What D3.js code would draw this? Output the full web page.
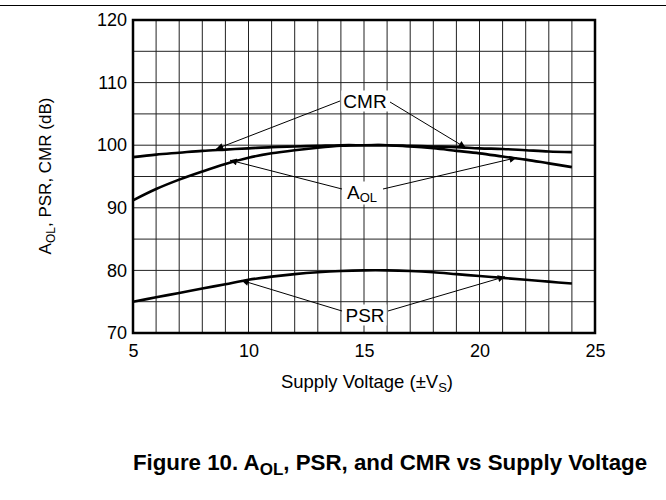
<!DOCTYPE html>
<html><head><meta charset="utf-8">
<script src="https://cdn.jsdelivr.net/npm/d3@7"></script>
<style>body{margin:0;background:#fff}svg{font-family:Arial,"Liberation Sans",sans-serif}</style>
</head><body><svg id="c" width="666" height="500"></svg>
<script>
const supplyV = [5,6,7,8,9,10,11,12,13,14,15,16,17,18,19,20,21,22,23,24];
const cmr = [98.1,98.5,98.8,99.1,99.3,99.5,99.7,99.8,99.9,100,100,100,99.9,99.8,99.7,99.5,99.4,99.2,99.0,98.9];
const aol = [91.2,93.0,94.5,95.8,97.0,98.0,98.7,99.2,99.6,99.9,100,100,99.8,99.5,99.1,98.7,98.2,97.7,97.1,96.5];
const psr = [75.0,75.7,76.4,77.1,77.8,78.5,79.0,79.4,79.7,79.9,80,80,79.9,79.7,79.4,79.1,78.8,78.5,78.2,77.9];
const xTicks = [5,10,15,20,25];
const yTicks = [70,80,90,100,110,120];
const annotations = [
  {label:"CMR", sub:"", lx:365, ly:101, arrows:[{from:[340,101],x:8.6,y:99.4},{from:[390,102],x:19.4,y:99.6}]},
  {label:"A", sub:"OL", lx:362, ly:192, arrows:[{from:[342,189],x:9.2,y:97.6},{from:[383,189],x:21.6,y:98.0}]},
  {label:"PSR", sub:"", lx:365, ly:315, arrows:[{from:[342,311],x:9.7,y:78.4},{from:[388,311],x:21.1,y:79.0}]}
];

const svg = d3.select("#c");
const x = d3.scaleLinear().domain([5,25]).range([133,595]);
const y = d3.scaleLinear().domain([70,120]).range([333,20]);

svg.append("line").attr("x1",0).attr("x2",666).attr("y1",5.5).attr("y2",5.5).attr("stroke","#000").attr("stroke-width",1);

const defs = svg.append("defs");
defs.append("marker").attr("id","ah").attr("viewBox","0 0 10 10").attr("refX",10).attr("refY",5)
  .attr("markerWidth",10).attr("markerHeight",7).attr("markerUnits","userSpaceOnUse").attr("orient","auto")
  .append("path").attr("d","M0,0 L10,5 L0,10 Z").attr("fill","#000");

const g = svg.append("g");
g.selectAll(".vg").data(d3.range(6,25)).enter().append("line")
  .attr("x1",d=>x(d)).attr("x2",d=>x(d)).attr("y1",y(120)).attr("y2",y(70))
  .attr("stroke","#222").attr("stroke-width",1);
g.selectAll(".hg").data(d3.range(75,120,5)).enter().append("line")
  .attr("y1",d=>y(d)).attr("y2",d=>y(d)).attr("x1",x(5)).attr("x2",x(25))
  .attr("stroke","#222").attr("stroke-width",1);

const xAxis = d3.axisBottom(x).tickValues(xTicks).tickSize(0).tickPadding(11);
const xa = svg.append("g").attr("transform",`translate(0,${y(70)})`).call(xAxis);
xa.select(".domain").remove();
xa.selectAll("text").style("font-size","18px").style("font-family","Arial, 'Liberation Sans', sans-serif").attr("fill","#000");
const yAxis = d3.axisLeft(y).tickValues(yTicks).tickSize(0).tickPadding(6);
const ya = svg.append("g").attr("transform",`translate(${x(5)},0)`).call(yAxis);
ya.select(".domain").remove();
ya.selectAll("text").style("font-size","18px").style("font-family","Arial, 'Liberation Sans', sans-serif").attr("fill","#000");

const line = d3.line().x((d,i)=>x(supplyV[i])).y(d=>y(d)).curve(d3.curveCatmullRom);
[cmr,aol,psr].forEach(s=>{
  svg.append("path").attr("d",line(s)).attr("fill","none").attr("stroke","#000").attr("stroke-width",2.6);
});

svg.append("rect").attr("x",x(5)).attr("y",y(120)).attr("width",x(25)-x(5)).attr("height",y(70)-y(120))
  .attr("fill","none").attr("stroke","#000").attr("stroke-width",2.5);

annotations.forEach(a=>{
  a.arrows.forEach(ar=>{
    svg.append("line").attr("x1",ar.from[0]).attr("y1",ar.from[1]).attr("x2",x(ar.x)).attr("y2",y(ar.y))
      .attr("stroke","#000").attr("stroke-width",1).attr("marker-end","url(#ah)");
  });
  const t = svg.append("text").attr("x",a.lx).attr("y",a.ly).attr("text-anchor","middle")
    .attr("dominant-baseline","central").style("font-size","19px").attr("fill","#000");
  t.append("tspan").text(a.label);
  if(a.sub) t.append("tspan").style("font-size","13px").attr("dy",5).text(a.sub);
  const bb = t.node().getBBox();
  svg.insert("rect", () => t.node()).attr("x",bb.x-2).attr("y",bb.y).attr("width",bb.width+4).attr("height",bb.height).attr("fill","#fff");
});

const xt = svg.append("text").attr("x",367).attr("y",388).attr("text-anchor","middle").style("font-size","18.5px").attr("fill","#000");
xt.append("tspan").text("Supply Voltage (±V");
xt.append("tspan").style("font-size","13px").attr("dy",4).text("S");
xt.append("tspan").attr("dy",-4).text(")");

const yt = svg.append("text").attr("transform","translate(51,176) rotate(-90)").attr("text-anchor","middle").style("font-size","17px").attr("fill","#000");
yt.append("tspan").text("A");
yt.append("tspan").style("font-size","12px").attr("dy",4).text("OL");
yt.append("tspan").attr("dy",-4).text(", PSR, CMR (dB)");

const tt = svg.append("text").attr("x",390).attr("y",470).attr("text-anchor","middle").style("font-size","22.3px").attr("font-weight","bold").attr("fill","#000");
tt.append("tspan").text("Figure 10. A");
tt.append("tspan").style("font-size","17px").attr("dy",5).text("OL");
tt.append("tspan").attr("dy",-5).text(", PSR, and CMR vs Supply Voltage");
</script></body></html>
